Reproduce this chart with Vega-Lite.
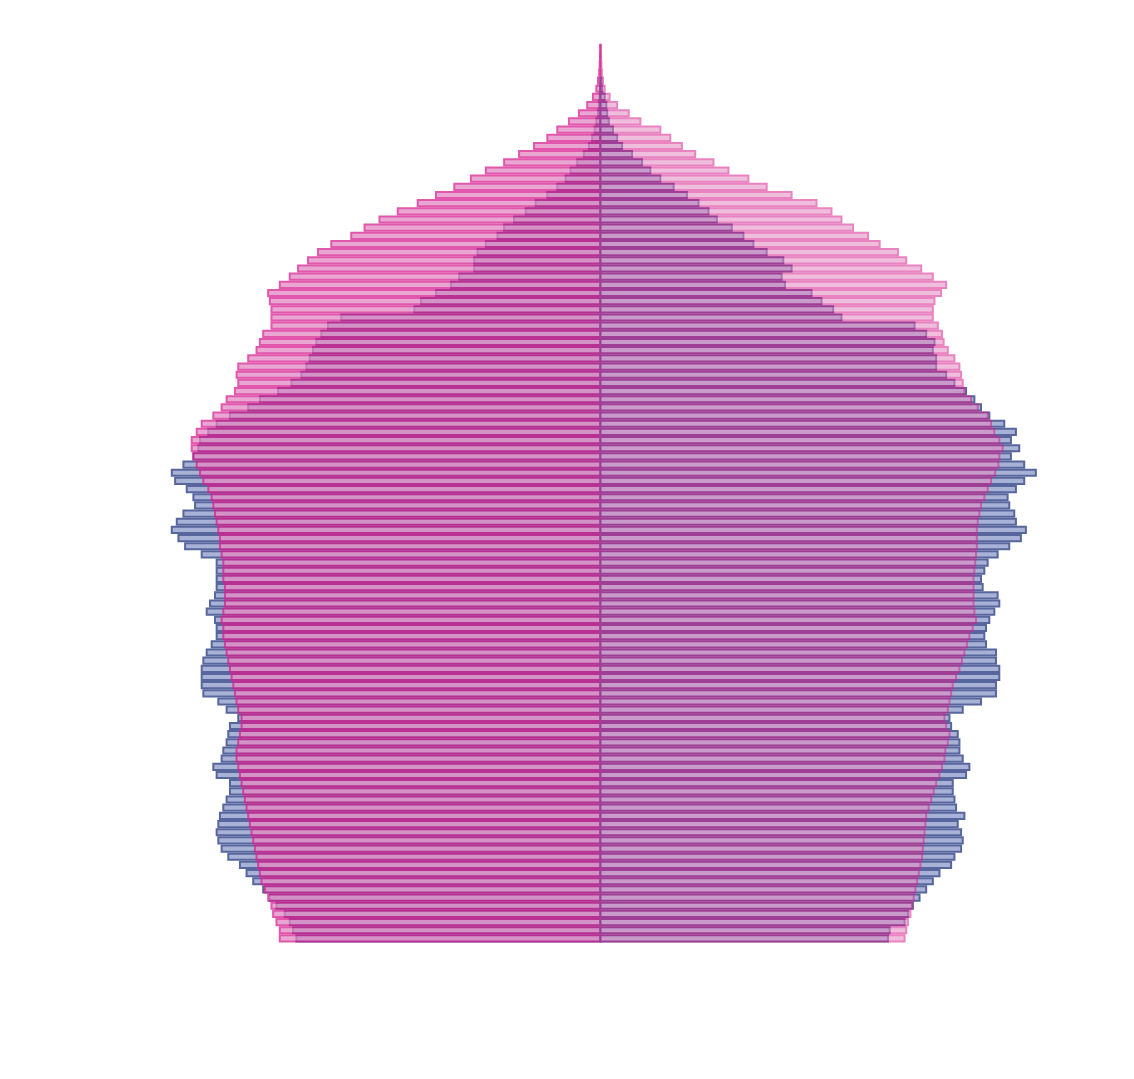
{
"$schema": "https://vega.github.io/schema/vega-lite/v6.json",
"width": 997, "height": 915,
"autosize": "none",
"padding": {"left": 102, "top": 27, "right": 35, "bottom": 137},
"background": "white",
"config": {"view": {"stroke": null}, "font": "Liberation Sans Narrow, DejaVu Sans Condensed, sans-serif"},
"data": {"values": [
{"age":0,"h2022":18300,"h2071":19300,"f2022":17300,"f2071":18300},
{"age":1,"h2022":18500,"h2071":19300,"f2022":17400,"f2071":18400},
{"age":2,"h2022":18700,"h2071":19500,"f2022":18300,"f2071":18500},
{"age":3,"h2022":19000,"h2071":19700,"f2022":18500,"f2071":18650},
{"age":4,"h2022":19500,"h2071":19800,"f2022":18800,"f2071":18750},
{"age":5,"h2022":19900,"h2071":20000,"f2022":19200,"f2071":18850},
{"age":6,"h2022":20300,"h2071":20200,"f2022":19600,"f2071":18950},
{"age":7,"h2022":20900,"h2071":20400,"f2022":20000,"f2071":19050},
{"age":8,"h2022":21300,"h2071":20500,"f2022":20400,"f2071":19150},
{"age":9,"h2022":21700,"h2071":20600,"f2022":21100,"f2071":19250},
{"age":10,"h2022":22400,"h2071":20700,"f2022":21300,"f2071":19350},
{"age":11,"h2022":22800,"h2071":20800,"f2022":21700,"f2071":19400},
{"age":12,"h2022":23000,"h2071":20900,"f2022":21800,"f2071":19450},
{"age":13,"h2022":23100,"h2071":21000,"f2022":21700,"f2071":19500},
{"age":14,"h2022":23000,"h2071":21100,"f2022":21500,"f2071":19550},
{"age":15,"h2022":22900,"h2071":21200,"f2022":21900,"f2071":19600},
{"age":16,"h2022":22700,"h2071":21300,"f2022":21400,"f2071":19750},
{"age":17,"h2022":22500,"h2071":21400,"f2022":21300,"f2071":19900},
{"age":18,"h2022":22300,"h2071":21500,"f2022":21200,"f2071":20050},
{"age":19,"h2022":22300,"h2071":21600,"f2022":21200,"f2071":20200},
{"age":20,"h2022":23100,"h2071":21700,"f2022":22000,"f2071":20400},
{"age":21,"h2022":23300,"h2071":21800,"f2022":22200,"f2071":20550},
{"age":22,"h2022":22800,"h2071":21900,"f2022":21800,"f2071":20700},
{"age":23,"h2022":22700,"h2071":21900,"f2022":21600,"f2071":20750},
{"age":24,"h2022":22500,"h2071":21800,"f2022":21600,"f2071":20900},
{"age":25,"h2022":22400,"h2071":21700,"f2022":21500,"f2071":21000},
{"age":26,"h2022":22300,"h2071":21600,"f2022":21100,"f2071":20800},
{"age":27,"h2022":21800,"h2071":21600,"f2022":21000,"f2071":20700},
{"age":28,"h2022":22500,"h2071":21800,"f2022":21800,"f2071":20900},
{"age":29,"h2022":23000,"h2071":21900,"f2022":22900,"f2071":21000},
{"age":30,"h2022":23900,"h2071":22000,"f2022":23800,"f2071":21100},
{"age":31,"h2022":24000,"h2071":22100,"f2022":23800,"f2071":21200},
{"age":32,"h2022":24000,"h2071":22200,"f2022":24000,"f2071":21400},
{"age":33,"h2022":24000,"h2071":22300,"f2022":24000,"f2071":21600},
{"age":34,"h2022":23900,"h2071":22400,"f2022":23800,"f2071":21750},
{"age":35,"h2022":23700,"h2071":22500,"f2022":23800,"f2071":21900},
{"age":36,"h2022":23400,"h2071":22600,"f2022":23200,"f2071":22050},
{"age":37,"h2022":23100,"h2071":22700,"f2022":23100,"f2071":22200},
{"age":38,"h2022":23100,"h2071":22700,"f2022":23200,"f2071":22400},
{"age":39,"h2022":23200,"h2071":22800,"f2022":23400,"f2071":22600},
{"age":40,"h2022":23700,"h2071":22700,"f2022":23700,"f2071":22500},
{"age":41,"h2022":23500,"h2071":22600,"f2022":24000,"f2071":22450},
{"age":42,"h2022":23200,"h2071":22600,"f2022":23900,"f2071":22450},
{"age":43,"h2022":23100,"h2071":22600,"f2022":23000,"f2071":22450},
{"age":44,"h2022":23100,"h2071":22700,"f2022":22900,"f2071":22450},
{"age":45,"h2022":23100,"h2071":22700,"f2022":23100,"f2071":22500},
{"age":46,"h2022":23100,"h2071":22700,"f2022":23300,"f2071":22550},
{"age":47,"h2022":24000,"h2071":22800,"f2022":23900,"f2071":22600},
{"age":48,"h2022":25000,"h2071":22900,"f2022":24600,"f2071":22650},
{"age":49,"h2022":25400,"h2071":22900,"f2022":25300,"f2071":22650},
{"age":50,"h2022":25800,"h2071":23000,"f2022":25600,"f2071":22650},
{"age":51,"h2022":25500,"h2071":23100,"f2022":25000,"f2071":22700},
{"age":52,"h2022":25100,"h2071":23200,"f2022":24900,"f2071":22800},
{"age":53,"h2022":24400,"h2071":23300,"f2022":24600,"f2071":22900},
{"age":54,"h2022":24500,"h2071":23400,"f2022":24500,"f2071":23100},
{"age":55,"h2022":24900,"h2071":23600,"f2022":25000,"f2071":23300},
{"age":56,"h2022":25600,"h2071":23900,"f2022":25500,"f2071":23500},
{"age":57,"h2022":25800,"h2071":24100,"f2022":26200,"f2071":23750},
{"age":58,"h2022":25100,"h2071":24300,"f2022":25500,"f2071":23950},
{"age":59,"h2022":24500,"h2071":24500,"f2022":24700,"f2071":24000},
{"age":60,"h2022":24200,"h2071":24600,"f2022":25200,"f2071":24200},
{"age":61,"h2022":24100,"h2071":24600,"f2022":24700,"f2071":24000},
{"age":62,"h2022":23600,"h2071":24300,"f2022":25000,"f2071":23700},
{"age":63,"h2022":23100,"h2071":24000,"f2022":24300,"f2071":23500},
{"age":64,"h2022":22300,"h2071":23300,"f2022":23400,"f2071":23300},
{"age":65,"h2022":21200,"h2071":22800,"f2022":22900,"f2071":22700},
{"age":66,"h2022":20500,"h2071":22500,"f2022":22500,"f2071":22300},
{"age":67,"h2022":19400,"h2071":22000,"f2022":22000,"f2071":21900},
{"age":68,"h2022":18600,"h2071":21800,"f2022":21300,"f2071":21800},
{"age":69,"h2022":18000,"h2071":21900,"f2022":20800,"f2071":21700},
{"age":70,"h2022":17700,"h2071":21800,"f2022":20200,"f2071":21600},
{"age":71,"h2022":17500,"h2071":21200,"f2022":20200,"f2071":21300},
{"age":72,"h2022":17300,"h2071":20700,"f2022":20000,"f2071":20900},
{"age":73,"h2022":17100,"h2071":20500,"f2022":20100,"f2071":20650},
{"age":74,"h2022":16800,"h2071":20300,"f2022":19600,"f2071":20550},
{"age":75,"h2022":16400,"h2071":19800,"f2022":18900,"f2071":20300},
{"age":76,"h2022":15600,"h2071":19800,"f2022":14500,"f2071":20000},
{"age":77,"h2022":11200,"h2071":19800,"f2022":14000,"f2071":20000},
{"age":78,"h2022":10800,"h2071":19900,"f2022":13300,"f2071":20100},
{"age":79,"h2022":9900,"h2071":20000,"f2022":12700,"f2071":20500},
{"age":80,"h2022":9000,"h2071":19300,"f2022":11100,"f2071":20800},
{"age":81,"h2022":8500,"h2071":18700,"f2022":10900,"f2071":20000},
{"age":82,"h2022":7600,"h2071":18200,"f2022":11500,"f2071":19300},
{"age":83,"h2022":7600,"h2071":17600,"f2022":11000,"f2071":18400},
{"age":84,"h2022":7400,"h2071":17000,"f2022":10000,"f2071":17900},
{"age":85,"h2022":6900,"h2071":16200,"f2022":9200,"f2071":16800},
{"age":86,"h2022":6200,"h2071":15000,"f2022":8600,"f2071":16100},
{"age":87,"h2022":5800,"h2071":14200,"f2022":7900,"f2071":15200},
{"age":88,"h2022":5200,"h2071":13300,"f2022":7000,"f2071":14500},
{"age":89,"h2022":4500,"h2071":12200,"f2022":6500,"f2071":13900},
{"age":90,"h2022":3900,"h2071":11000,"f2022":5900,"f2071":13000},
{"age":91,"h2022":3200,"h2071":9900,"f2022":5200,"f2071":11500},
{"age":92,"h2022":2600,"h2071":8800,"f2022":4400,"f2071":10000},
{"age":93,"h2022":2100,"h2071":7800,"f2022":3600,"f2071":8900},
{"age":94,"h2022":1800,"h2071":6900,"f2022":3000,"f2071":7700},
{"age":95,"h2022":1400,"h2071":5800,"f2022":2500,"f2071":6800},
{"age":96,"h2022":1000,"h2071":4900,"f2022":1900,"f2071":5700},
{"age":97,"h2022":700,"h2071":4000,"f2022":1300,"f2071":4900},
{"age":98,"h2022":500,"h2071":3200,"f2022":1000,"f2071":4200},
{"age":99,"h2022":350,"h2071":2600,"f2022":750,"f2071":3600},
{"age":100,"h2022":250,"h2071":1900,"f2022":500,"f2071":2400},
{"age":101,"h2022":150,"h2071":1300,"f2022":400,"f2071":1700},
{"age":102,"h2022":100,"h2071":800,"f2022":350,"f2071":1000},
{"age":103,"h2022":60,"h2071":450,"f2022":250,"f2071":550},
{"age":104,"h2022":30,"h2071":250,"f2022":100,"f2071":250},
{"age":105,"h2071":150,"f2022":50,"f2071":150},
{"age":106,"h2071":80,"f2071":80},
{"age":107,"h2071":50,"f2071":50},
{"age":108,"h2071":30,"f2071":30},
{"age":109,"h2071":20,"f2071":20}
]},
"encoding": {
  "y": {"field": "age", "type": "quantitative", "bin": {"step": 1, "extent": [0, 110]},
    "scale": {"domain": [0, 112], "nice": false, "zero": false},
    "axis": {"values": [0,10,20,30,40,50,60,70,80,90,100,110],
      "labelExpr": "datum.value > 100 ? '' : (datum.value == 0 ? '0 an' : datum.value + ' ans')",
      "title": null, "grid": true, "gridColor": "#1a1a1a", "gridWidth": 2, "gridOpacity": 1,
      "ticks": false, "tickSize": 0, "domain": false,
      "labelColor": "#8a8a8a", "labelFont": "Liberation Sans Narrow, DejaVu Sans Condensed, sans-serif",
      "labelFontSize": 20, "labelFontWeight": "bold", "labelPadding": 17, "labelOffset": -3,
      "labelBaseline": "middle", "labelOverlap": false, "labelBound": false}}
},
"layer": [
  {"layer": [
    {"data": {"values": [{}]}, "mark": {"type": "rect", "color": "white"},
     "encoding": {"x": {"datum": 6300, "type": "quantitative", "scale": {"domain": [-30000, 30000], "reverse": true, "nice": false, "zero": false}, "axis": null},
       "x2": {"datum": 19100}, "y": {"datum": 92.4, "type": "quantitative", "axis": null}, "y2": {"datum": 103.2}}},
    {"data": {"values": [{}]}, "mark": {"type": "rect", "color": "white"},
     "encoding": {"x": {"datum": 9200, "type": "quantitative", "scale": {"domain": [-30000, 30000], "reverse": true, "nice": false, "zero": false}, "axis": null},
       "x2": {"datum": 13400}, "y": {"datum": 105.8, "type": "quantitative", "axis": null}, "y2": {"datum": 110.7}}},
    {"mark": {"type": "bar", "fill": "#a8b2d6", "stroke": "#58669e", "strokeWidth": 2, "binSpacing": 2},
     "encoding": {"x": {"field": "h2022", "type": "quantitative", "stack": null, "scale": {"domain": [-30000, 30000], "reverse": true, "nice": false, "zero": false}, "axis": null}}},
    {"mark": {"type": "bar", "fill": "#e389c3", "stroke": "#d8208f", "strokeWidth": 2, "binSpacing": 2, "opacity": 0.75},
     "encoding": {"x": {"field": "h2071", "type": "quantitative", "stack": null, "scale": {"domain": [-30000, 30000], "reverse": true, "nice": false, "zero": false}, "axis": null}}},
    {"data": {"values": [{}]}, "mark": {"type": "text", "text": "Hommes", "fontSize": 17, "fontWeight": "bold", "color": "#8c8c8c", "align": "center", "baseline": "middle"},
     "encoding": {"x": {"datum": 11310, "type": "quantitative", "scale": {"domain": [-30000, 30000], "reverse": true, "nice": false, "zero": false}, "axis": null},
       "y": {"datum": 108.2, "type": "quantitative", "axis": null}}},
    {"data": {"values": [{}]}, "mark": {"type": "text", "text": "Wallonie en 2022 en bleu", "fontSize": 20, "fontWeight": "bold", "color": "#58639f", "align": "center", "baseline": "middle"},
     "encoding": {"x": {"datum": 12490, "type": "quantitative", "scale": {"domain": [-30000, 30000], "reverse": true, "nice": false, "zero": false}, "axis": null},
       "y": {"datum": 99.76, "type": "quantitative", "axis": null}}},
    {"data": {"values": [{}]}, "mark": {"type": "text", "text": "Wallonie en 2071 en rose", "fontSize": 20, "fontWeight": "bold", "color": "#e3218b", "align": "center", "baseline": "middle"},
     "encoding": {"x": {"datum": 12490, "type": "quantitative", "scale": {"domain": [-30000, 30000], "reverse": true, "nice": false, "zero": false}, "axis": null},
       "y": {"datum": 95.35, "type": "quantitative", "axis": null}}}
  ]},
  {"layer": [
    {"data": {"values": [{}]}, "mark": {"type": "rect", "color": "white"},
     "encoding": {"x": {"datum": 12800, "type": "quantitative", "scale": {"domain": [-30000, 30000], "nice": false, "zero": false}, "axis": null},
       "x2": {"datum": 18400}, "y": {"datum": 107.9, "type": "quantitative", "axis": null}, "y2": {"datum": 110.7}}},
    {"mark": {"type": "bar", "fill": "#a8b2d6", "stroke": "#58669e", "strokeWidth": 2, "binSpacing": 2},
     "encoding": {"x": {"field": "f2022", "type": "quantitative", "stack": null, "scale": {"domain": [-30000, 30000], "nice": false, "zero": false},
       "axis": {"orient": "bottom", "values": [-30000,-20000,-10000,0,10000,20000,30000], "labelExpr": "format(abs(datum.value), 'd')",
         "title": null, "grid": true, "gridColor": "#1a1a1a", "gridWidth": 2, "gridOpacity": 1,
         "ticks": true, "tickColor": "#1a1a1a", "tickWidth": 2, "tickSize": 12, "domain": false,
         "labelColor": "#1a1a1a", "labelFont": "Liberation Sans Narrow, DejaVu Sans Condensed, sans-serif", "labelFontSize": 20, "labelFontWeight": "bold",
         "labelPadding": 10, "labelFlush": false, "labelOverlap": false, "labelBound": false}}}},
    {"mark": {"type": "bar", "fill": "#e389c3", "stroke": "#d8208f", "strokeWidth": 2, "binSpacing": 2, "opacity": 0.55},
     "encoding": {"x": {"field": "f2071", "type": "quantitative", "stack": null, "scale": {"domain": [-30000, 30000], "nice": false, "zero": false}, "axis": null}}},
    {"data": {"values": [{}]}, "mark": {"type": "rule", "color": "#2b2b2b", "strokeWidth": 1.5},
     "encoding": {"x": {"datum": 0, "type": "quantitative", "scale": {"domain": [-30000, 30000], "nice": false, "zero": false}, "axis": null},
       "y": {"datum": 0, "type": "quantitative", "axis": null}, "y2": {"datum": 110.7}}},
    {"data": {"values": [{}]}, "mark": {"type": "text", "text": "Femmes", "fontSize": 17, "fontWeight": "bold", "color": "#8c8c8c", "align": "center", "baseline": "middle"},
     "encoding": {"x": {"datum": 15160, "type": "quantitative", "scale": {"domain": [-30000, 30000], "nice": false, "zero": false}, "axis": null},
       "y": {"datum": 109.4, "type": "quantitative", "axis": null}}},
    {"data": {"values": [{}]}, "mark": {"type": "rect", "color": "white"},
     "encoding": {"x": {"datum": 13480, "type": "quantitative", "scale": {"domain": [-30000, 30000], "nice": false, "zero": false}, "axis": null},
       "x2": {"datum": 30000}, "y": {"datum": -2.8, "type": "quantitative", "axis": null}, "y2": {"datum": -17}}},
    {"data": {"values": [{}]}, "mark": {"type": "circle", "size": 180, "color": "#c8143c", "opacity": 1},
     "encoding": {"x": {"datum": 15290, "type": "quantitative", "scale": {"domain": [-30000, 30000], "nice": false, "zero": false}, "axis": null},
       "y": {"datum": -8.94, "type": "quantitative", "axis": null}}},
    {"data": {"values": [{}]}, "mark": {"type": "circle", "size": 180, "color": "#4aa84a", "opacity": 1},
     "encoding": {"x": {"datum": 16610, "type": "quantitative", "scale": {"domain": [-30000, 30000], "nice": false, "zero": false}, "axis": null},
       "y": {"datum": -8.94, "type": "quantitative", "axis": null}}},
    {"data": {"values": [{}]}, "mark": {"type": "circle", "size": 180, "color": "#1e9fd8", "opacity": 1},
     "encoding": {"x": {"datum": 15290, "type": "quantitative", "scale": {"domain": [-30000, 30000], "nice": false, "zero": false}, "axis": null},
       "y": {"datum": -11.5, "type": "quantitative", "axis": null}}},
    {"data": {"values": [{}]}, "mark": {"type": "circle", "size": 180, "color": "#f7b500", "opacity": 1},
     "encoding": {"x": {"datum": 16610, "type": "quantitative", "scale": {"domain": [-30000, 30000], "nice": false, "zero": false}, "axis": null},
       "y": {"datum": -11.5, "type": "quantitative", "axis": null}}},
    {"data": {"values": [{}]}, "mark": {"type": "circle", "size": 180, "color": "#ef7a10", "opacity": 1},
     "encoding": {"x": {"datum": 16610, "type": "quantitative", "scale": {"domain": [-30000, 30000], "nice": false, "zero": false}, "axis": null},
       "y": {"datum": -14.2, "type": "quantitative", "axis": null}}},
    {"data": {"values": [{}]}, "mark": {"type": "text", "text": "absym", "font": "Open Sans", "fontSize": 64, "color": "#6a5b9a", "align": "left", "baseline": "alphabetic"},
     "encoding": {"x": {"datum": 17210, "type": "quantitative", "scale": {"domain": [-30000, 30000], "nice": false, "zero": false}, "axis": null},
       "y": {"datum": -12.24, "type": "quantitative", "axis": null}}},
    {"data": {"values": [{}]}, "mark": {"type": "text", "text": "Association Belge des", "fontSize": 13, "color": "#5f4f8c", "align": "left", "baseline": "alphabetic"},
     "encoding": {"x": {"datum": 17390, "type": "quantitative", "scale": {"domain": [-30000, 30000], "nice": false, "zero": false}, "axis": null},
       "y": {"datum": -14.93, "type": "quantitative", "axis": null}}},
    {"data": {"values": [{}]}, "mark": {"type": "text", "text": "Syndicats Médicaux", "fontSize": 13, "color": "#5f4f8c", "align": "left", "baseline": "alphabetic"},
     "encoding": {"x": {"datum": 17390, "type": "quantitative", "scale": {"domain": [-30000, 30000], "nice": false, "zero": false}, "axis": null},
       "y": {"datum": -16.4, "type": "quantitative", "axis": null}}}
  ]}
],
"resolve": {"scale": {"x": "independent"}}
}
